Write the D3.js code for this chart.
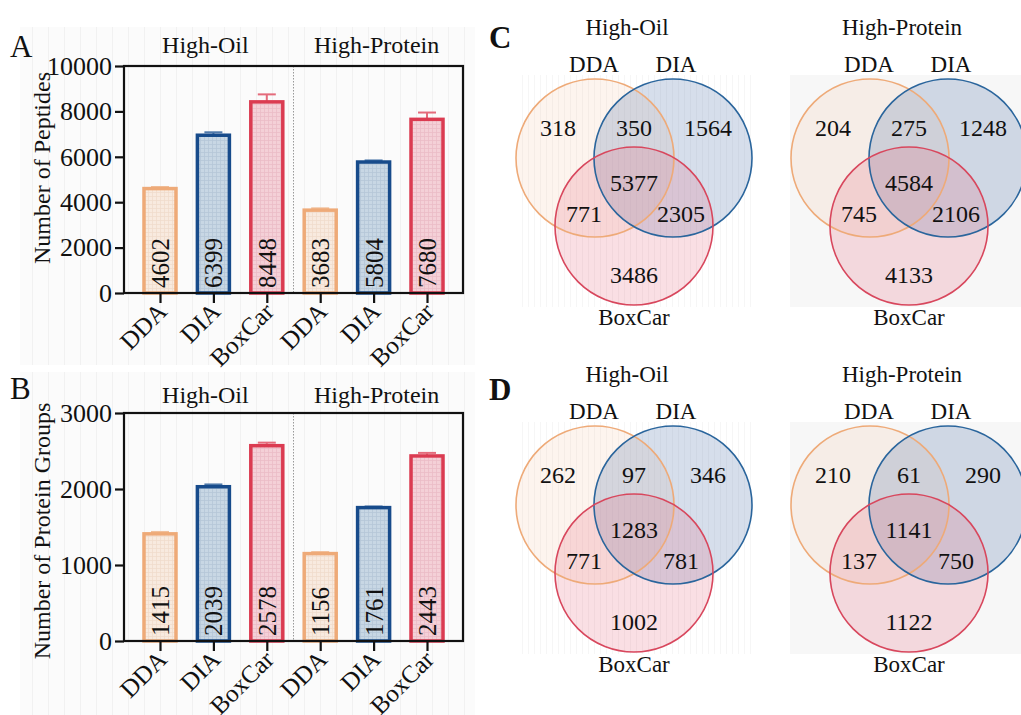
<!DOCTYPE html>
<html><head><meta charset="utf-8">
<script src="https://cdn.jsdelivr.net/npm/d3@7"></script>
<style>
body{margin:0;background:#fff}
svg text{font-family:'Liberation Serif','Tinos','Times New Roman','DejaVu Serif',serif !important;fill:#111}
</style>
</head><body><svg id="c" width="1021" height="715"></svg>
<script>
// ---------- data ----------
const groups = ["High-Oil", "High-Protein"];
const methods = ["DDA", "DIA", "BoxCar"];
const barCats = ["DDA", "DIA", "BoxCar", "DDA", "DIA", "BoxCar"];
const pepMeans = [4600, 6950, 8420, 3650, 5770, 7650];
const pepErrs = [70, 130, 330, 80, 70, 300];
const pepLabels = ["4602", "6399", "8448", "3683", "5804", "7680"];
const pepTicks = [0, 2000, 4000, 6000, 8000, 10000];
const protMeans = [1410, 2030, 2570, 1150, 1755, 2435];
const protErrs = [25, 30, 40, 20, 15, 40];
const protLabels = ["1415", "2039", "2578", "1156", "1761", "2443"];
const protTicks = [0, 1000, 2000, 3000];
// Venn regions: DDA only, DDA∩DIA, DIA only, all three, DDA∩BoxCar, DIA∩BoxCar, BoxCar only
const vennRegions = ["DDA", "DDA&DIA", "DIA", "ALL", "DDA&BoxCar", "DIA&BoxCar", "BoxCar"];
const pepOil = [318, 350, 1564, 5377, 771, 2305, 3486];
const pepProtein = [204, 275, 1248, 4584, 745, 2106, 4133];
const protOil = [262, 97, 346, 1283, 771, 781, 1002];
const protProtein = [210, 61, 290, 1141, 137, 750, 1122];

// ---------- styles ----------
const FONT = "'Liberation Serif','Tinos','Times New Roman','DejaVu Serif',serif";
const strokeCol = {DDA: "#eeaa78", DIA: "#174b8b", BoxCar: "#db3b51"};
const errCol = {DDA: "#f1bf9a", DIA: "#4f79aa", BoxCar: "#e46b7b"};
const fillBase = {DDA: "#f8eadf", DIA: "#c8d7e4", BoxCar: "#f4d0d7"};
const fillLine = {DDA: "#f0dccd", DIA: "#b5c7d8", BoxCar: "#ebbdc6"};
const vennStroke = {DDA: "#eeaa78", DIA: "#2a659c", BoxCar: "#d8475d"};
const vennFill = {DDA: "rgba(240,170,125,0.13)", DIA: "rgba(70,105,165,0.22)", BoxCar: "rgba(228,95,120,0.2)"};

const svg = d3.select("#c").attr("font-family", FONT);
const defs = svg.append("defs");
methods.forEach(m => {
  const p = defs.append("pattern").attr("id", "pat" + m).attr("patternUnits", "userSpaceOnUse")
    .attr("width", 4).attr("height", 4);
  p.append("rect").attr("width", 4).attr("height", 4).attr("fill", fillBase[m]);
  p.append("path").attr("d", "M0 0.5H4M0.5 0V4").attr("stroke", fillLine[m]).attr("stroke-width", 0.8);
});
const sp = defs.append("pattern").attr("id", "stripes").attr("patternUnits", "userSpaceOnUse")
  .attr("width", 16).attr("height", 16);
sp.append("rect").attr("width", 16).attr("height", 16).attr("fill", "#fbfbfb");
sp.append("rect").attr("width", 1).attr("height", 16).attr("fill", "#f1f1f1");
const sp2 = defs.append("pattern").attr("id", "stripes2").attr("patternUnits", "userSpaceOnUse")
  .attr("width", 6).attr("height", 6);
sp2.append("rect").attr("width", 6).attr("height", 6).attr("fill", "#ffffff");
sp2.append("rect").attr("width", 1).attr("height", 6).attr("fill", "#f6f6f6");

// ---------- bar panels ----------
function barPanel(cfg) {
  const g = svg.append("g");
  g.append("rect").attr("x", 20).attr("y", cfg.bgTop).attr("width", 455).attr("height", cfg.bgH)
    .attr("fill", "url(#stripes)");
  const x = d3.scalePoint().domain(d3.range(barCats.length)).range([124, 463]).padding(0.674);
  const y = d3.scaleLinear().domain([0, cfg.ticks[cfg.ticks.length - 1]]).range([cfg.bottom, cfg.top]);
  const bw = 32;
  const mid = (x(2) + x(3)) / 2;
  g.append("line").attr("x1", mid).attr("x2", mid).attr("y1", y.range()[1]).attr("y2", y.range()[0])
    .attr("stroke", "#999").attr("stroke-width", 1).attr("stroke-dasharray", "1.5,1.5");
  cfg.means.forEach((v, i) => {
    const c = barCats[i], cx = x(i);
    g.append("line").attr("x1", cx).attr("x2", cx).attr("y1", y(v)).attr("y2", y(v + cfg.errs[i]))
      .attr("stroke", errCol[c]).attr("stroke-width", 2);
    g.append("line").attr("x1", cx - 9).attr("x2", cx + 9).attr("y1", y(v + cfg.errs[i])).attr("y2", y(v + cfg.errs[i]))
      .attr("stroke", errCol[c]).attr("stroke-width", 2);
  });
  g.selectAll("rect.bar").data(cfg.means).join("rect").attr("class", "bar")
    .attr("x", (d, i) => x(i) - bw / 2).attr("width", bw)
    .attr("y", d => y(d)).attr("height", d => y(0) - y(d))
    .attr("fill", (d, i) => "url(#pat" + barCats[i] + ")")
    .attr("stroke", (d, i) => strokeCol[barCats[i]]).attr("stroke-width", 3.5);
  g.selectAll("text.val").data(cfg.labels).join("text").attr("class", "val")
    .attr("transform", (d, i) => `translate(${x(i)},${y(0) - 5}) rotate(-90)`)
    .attr("dy", "0.36em").attr("font-size", 25).attr("fill", "#1a1a1a").text(d => d);
  g.append("rect").attr("x", 124).attr("y", cfg.top).attr("width", 463 - 124).attr("height", cfg.bottom - cfg.top)
    .attr("fill", "none").attr("stroke", "#111").attr("stroke-width", 2.2);
  const ya = g.append("g").attr("transform", "translate(124,0)")
    .call(d3.axisLeft(y).tickValues(cfg.ticks).tickSize(9).tickPadding(3).tickFormat(d3.format("d")));
  ya.attr("font-family", FONT);
  ya.select(".domain").remove();
  ya.selectAll("line").attr("stroke", "#111").attr("stroke-width", 2.2);
  ya.selectAll("text").attr("font-size", 26).attr("fill", "#111");
  const xa = g.append("g").attr("transform", `translate(0,${cfg.bottom})`)
    .call(d3.axisBottom(x).tickSize(10).tickFormat(i => barCats[i]));
  xa.attr("font-family", FONT);
  xa.select(".domain").remove();
  xa.selectAll("line").attr("stroke", "#111").attr("stroke-width", 2.2);
  xa.selectAll("text").attr("font-size", 25).attr("fill", "#111")
    .attr("text-anchor", "end").attr("dy", null).attr("y", null)
    .attr("transform", "translate(8,20) rotate(-45)");
  groups.forEach((t, k) => {
    g.append("text").attr("x", (x(k * 3) + x(k * 3 + 2)) / 2 + (k ? 3 : -8)).attr("y", cfg.titleY)
      .attr("text-anchor", "middle").attr("font-size", 24).text(t);
  });
  g.append("text").attr("transform", `translate(50,${cfg.ytitleY}) rotate(-90)`)
    .attr("text-anchor", "middle").attr("font-size", 24).text(cfg.ytitle);
  g.append("text").attr("x", 10).attr("y", cfg.letterY).attr("font-size", 31).text(cfg.letter);
}

barPanel({top: 66, bottom: 293, ticks: pepTicks, means: pepMeans, errs: pepErrs, labels: pepLabels,
  titleY: 53, ytitle: "Number of Peptides", ytitleY: 168, letter: "A", letterY: 57, bgTop: 27, bgH: 338});
barPanel({top: 413, bottom: 641, ticks: protTicks, means: protMeans, errs: protErrs, labels: protLabels,
  titleY: 403, ytitle: "Number of Protein Groups", ytitleY: 531, letter: "B", letterY: 399, bgTop: 372, bgH: 343});

// ---------- venn panels ----------
function venn(cx, cy, vals, title, bg) {
  const g = svg.append("g");
  const r = 79;
  if (bg === "grey") {
    g.append("rect").attr("x", cx - 119).attr("y", cy - 83).attr("width", 1021 - (cx - 119)).attr("height", 232).attr("fill", "#f7f7f7");
  } else {
    g.append("rect").attr("x", cx - 117).attr("y", cy - 83).attr("width", 235).attr("height", 232).attr("fill", "url(#stripes2)");
  }
  const centers = {DDA: [cx - 39, cy], DIA: [cx + 39, cy], BoxCar: [cx, cy + 68]};
  methods.forEach(m => {
    g.append("circle").attr("cx", centers[m][0]).attr("cy", centers[m][1]).attr("r", r)
      .attr("fill", vennFill[m]);
  });
  methods.forEach(m => {
    g.append("circle").attr("cx", centers[m][0]).attr("cy", centers[m][1]).attr("r", r)
      .attr("fill", "none").attr("stroke", vennStroke[m]).attr("stroke-width", 1.6);
  });
  const off = {"DDA": [-76, -22], "DDA&DIA": [0, -22], "DIA": [74, -22], "ALL": [0, 33],
    "DDA&BoxCar": [-50, 64], "DIA&BoxCar": [47, 64], "BoxCar": [0, 125]};
  vennRegions.forEach((k, i) => {
    g.append("text").attr("x", cx + off[k][0]).attr("y", cy + off[k][1]).attr("text-anchor", "middle")
      .attr("font-size", 24).text(vals[i]);
  });
  g.append("text").attr("x", cx - 7).attr("y", cy - 123).attr("text-anchor", "middle").attr("font-size", 23).text(title);
  g.append("text").attr("x", cx - 40).attr("y", cy - 86).attr("text-anchor", "middle").attr("font-size", 23).text("DDA");
  g.append("text").attr("x", cx + 42).attr("y", cy - 86).attr("text-anchor", "middle").attr("font-size", 23).text("DIA");
  g.append("text").attr("x", cx).attr("y", cy + 167).attr("text-anchor", "middle").attr("font-size", 23).text("BoxCar");
}
venn(634, 158, pepOil, "High-Oil", "stripes");
venn(909, 158, pepProtein, "High-Protein", "grey");
venn(634, 505, protOil, "High-Oil", "stripes");
venn(909, 505, protProtein, "High-Protein", "grey");
svg.append("text").attr("x", 489).attr("y", 48).attr("font-size", 31).attr("font-weight", "bold").text("C");
svg.append("text").attr("x", 489).attr("y", 400).attr("font-size", 31).attr("font-weight", "bold").text("D");
</script></body></html>
